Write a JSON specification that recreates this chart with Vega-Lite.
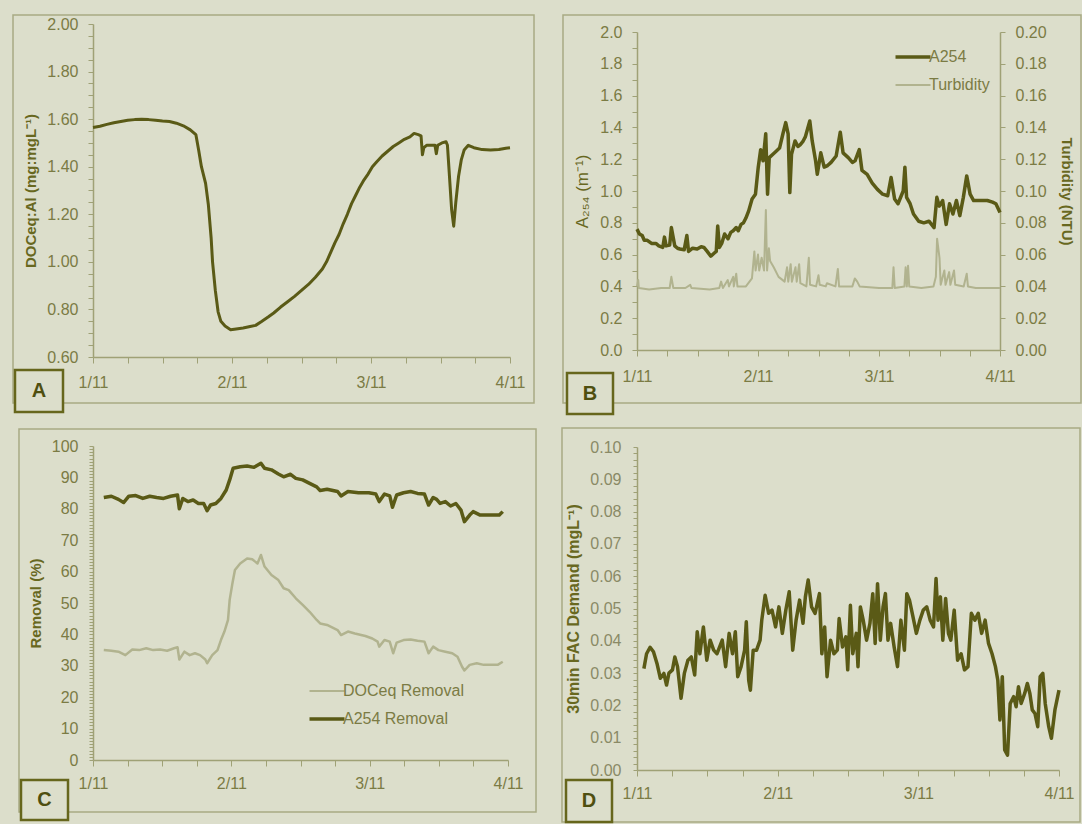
{
 "$schema": "https://vega.github.io/schema/vega-lite/v6.json",
 "background": "#dcdecb",
 "padding": {"left": 12, "top": 13, "right": 0, "bottom": 0},
 "spacing": 24,
 "resolve": {"scale": {"color": "independent"}, "legend": {"color": "independent"}},
 "config": {
  "view": {"stroke": null},
  "font": "Liberation Sans",
  "axis": {"labelFont": "Liberation Sans", "labelFontSize": 16, "labelColor": "#7b7b44", "titleFont": "Liberation Sans", "titleFontSize": 15, "titleColor": "#68681f", "titleFontWeight": "bold", "domainColor": "#9fa176", "domainWidth": 1.5, "tickColor": "#9fa176", "gridColor": "#a5a77d", "gridWidth": 1, "labelOverlap": false, "labelFlush": false, "labelAngle": 0, "titlePadding": 8, "tickCount": 500},
  "legend": {"symbolType": "M-1.75,0H1.75", "symbolSize": 400, "labelFont": "Liberation Sans", "labelFontSize": 16, "labelColor": "#7b7b44", "labelOffset": 8, "rowPadding": 12, "padding": 0, "title": null}
 },
 "hconcat": [
  {"vconcat": [
   {"width": 1, "height": 1, "data": {"values": [{}]}, "mark": {"type": "point", "opacity": 0, "size": 1}, "encoding": {}},
   {"vconcat": [
   {"width": 417, "height": 333,
    "layer": [
     {"data": {"values": [{}]}, "mark": {"type": "rect", "filled": false, "stroke": "#a8aa84", "strokeWidth": 1.5},
      "encoding": {"x": {"datum": 0.4245, "type": "quantitative"}, "x2": {"datum": 4.1727}, "y": {"datum": 2.0379, "type": "quantitative"}, "y2": {"datum": 0.4066}}},
     {"data": {"values": [
      {"d":1.00,"v":1.565},{"d":1.05,"v":1.570},{"d":1.10,"v":1.578},{"d":1.15,"v":1.585},{"d":1.20,"v":1.590},{"d":1.25,"v":1.595},{"d":1.30,"v":1.598},{"d":1.35,"v":1.600},{"d":1.40,"v":1.598},{"d":1.45,"v":1.595},{"d":1.50,"v":1.592},{"d":1.55,"v":1.590},{"d":1.60,"v":1.583},{"d":1.65,"v":1.572},{"d":1.70,"v":1.555},{"d":1.74,"v":1.535},{"d":1.76,"v":1.47},{"d":1.78,"v":1.40},{"d":1.81,"v":1.33},{"d":1.83,"v":1.24},{"d":1.85,"v":1.10},{"d":1.86,"v":1.00},{"d":1.88,"v":0.88},{"d":1.90,"v":0.79},{"d":1.92,"v":0.75},{"d":1.95,"v":0.73},{"d":1.99,"v":0.715},{"d":2.03,"v":0.718},{"d":2.08,"v":0.722},{"d":2.13,"v":0.728},{"d":2.17,"v":0.733},{"d":2.21,"v":0.748},{"d":2.26,"v":0.768},{"d":2.30,"v":0.785},{"d":2.35,"v":0.81},{"d":2.40,"v":0.832},{"d":2.45,"v":0.855},{"d":2.50,"v":0.88},{"d":2.55,"v":0.905},{"d":2.60,"v":0.935},{"d":2.65,"v":0.97},{"d":2.68,"v":1.00},{"d":2.71,"v":1.04},{"d":2.74,"v":1.08},{"d":2.77,"v":1.115},{"d":2.80,"v":1.16},{"d":2.83,"v":1.20},{"d":2.86,"v":1.245},{"d":2.89,"v":1.28},{"d":2.92,"v":1.315},{"d":2.95,"v":1.345},{"d":2.98,"v":1.37},{"d":3.01,"v":1.40},{"d":3.04,"v":1.42},{"d":3.08,"v":1.445},{"d":3.12,"v":1.465},{"d":3.16,"v":1.485},{"d":3.20,"v":1.50},{"d":3.24,"v":1.515},{"d":3.28,"v":1.525},{"d":3.31,"v":1.54},{"d":3.34,"v":1.535},{"d":3.36,"v":1.53},{"d":3.37,"v":1.45},{"d":3.38,"v":1.48},{"d":3.40,"v":1.49},{"d":3.44,"v":1.49},{"d":3.46,"v":1.49},{"d":3.47,"v":1.455},{"d":3.48,"v":1.49},{"d":3.51,"v":1.50},{"d":3.54,"v":1.505},{"d":3.55,"v":1.49},{"d":3.56,"v":1.40},{"d":3.58,"v":1.22},{"d":3.595,"v":1.15},{"d":3.61,"v":1.25},{"d":3.63,"v":1.36},{"d":3.65,"v":1.43},{"d":3.67,"v":1.47},{"d":3.70,"v":1.49},{"d":3.74,"v":1.48},{"d":3.80,"v":1.472},{"d":3.86,"v":1.47},{"d":3.92,"v":1.472},{"d":3.97,"v":1.478},{"d":4.00,"v":1.48}
     ]},
      "mark": {"type": "line", "color": "#5a5a16", "strokeWidth": 3, "strokeJoin": "round"},
      "encoding": {
       "x": {"field": "d", "type": "quantitative", "scale": {"domain": [1, 4], "nice": false, "zero": false},
        "axis": {"title": null, "labelOverlap": false, "tickCount": 500, "values": [1,1.25,1.5,1.75,2,2.25,2.5,2.75,3,3.25,3.5,3.75,4], "labelExpr": "datum.value % 1 === 0 ? datum.value + '/11' : ''", "gridOpacity": {"condition": {"test": "datum.value % 1 !== 0", "value": 0}, "value": 1}, "tickSize": 6, "labelPadding": 11}},
       "y": {"field": "v", "type": "quantitative", "scale": {"domain": [0.6, 2.0], "nice": false, "zero": false},
        "axis": {"title": "DOCeq:Al  (mg:mgL⁻¹)", "labelOverlap": false, "tickCount": 500, "values": [0.6,0.65,0.7,0.75,0.8,0.85,0.9,0.95,1,1.05,1.1,1.15,1.2,1.25,1.3,1.35,1.4,1.45,1.5,1.55,1.6,1.65,1.7,1.75,1.8,1.85,1.9,1.95,2], "labelExpr": "abs(datum.value*5 - round(datum.value*5)) < 0.001 ? format(datum.value, '.2f') : ''", "gridOpacity": {"condition": {"test": "abs(datum.value*5 - round(datum.value*5)) >= 0.001", "value": 0}, "value": 1}, "tickSize": 5, "labelPadding": 10}}
      }},
     {"data": {"values": [{}]}, "mark": {"type": "rect", "fill": "#dcdecb", "stroke": "#66661c", "strokeWidth": 2.5},
      "encoding": {"x": {"datum": 0.4388, "type": "quantitative"}, "x2": {"datum": 0.7842}, "y": {"datum": 0.5453, "type": "quantitative"}, "y2": {"datum": 0.3688}}},
     {"data": {"values": [{}]}, "mark": {"type": "text", "text": "A", "fontSize": 20, "fontWeight": "bold", "color": "#4f4f10", "align": "center", "baseline": "middle"},
      "encoding": {"x": {"datum": 0.6115, "type": "quantitative"}, "y": {"datum": 0.457, "type": "quantitative"}}}
    ]
   },
   {"width": 415, "height": 314,
    "layer": [
     {"data": {"values": [{}]}, "mark": {"type": "rect", "filled": false, "stroke": "#a8aa84", "strokeWidth": 1.5},
      "encoding": {"x": {"datum": 0.465, "type": "quantitative"}, "x2": {"datum": 4.2025}, "y": {"datum": 105.41, "type": "quantitative"}, "y2": {"datum": -16.56}}},
     {"data": {"values": [
      {"d":1.078,"r":35},{"d":1.133,"r":34.8},{"d":1.184,"r":34.5},{"d":1.234,"r":33.4},{"d":1.284,"r":35.2},{"d":1.334,"r":35},{"d":1.385,"r":35.6},{"d":1.435,"r":35},{"d":1.485,"r":35.2},{"d":1.536,"r":34.8},{"d":1.586,"r":35.6},{"d":1.611,"r":35.9},{"d":1.624,"r":32},{"d":1.661,"r":34.5},{"d":1.699,"r":33.4},{"d":1.737,"r":34},{"d":1.774,"r":33.4},{"d":1.812,"r":32},{"d":1.825,"r":30.8},{"d":1.862,"r":33.4},{"d":1.900,"r":35},{"d":1.925,"r":38.2},{"d":1.950,"r":40.9},{"d":1.976,"r":44.6},{"d":1.988,"r":51},{"d":2.008,"r":56.3},{"d":2.026,"r":60.5},{"d":2.064,"r":62.6},{"d":2.114,"r":64.2},{"d":2.151,"r":63.9},{"d":2.189,"r":62.6},{"d":2.214,"r":65.3},{"d":2.240,"r":61.6},{"d":2.290,"r":58.9},{"d":2.340,"r":57.3},{"d":2.378,"r":54.7},{"d":2.415,"r":54.1},{"d":2.466,"r":51.5},{"d":2.516,"r":49.4},{"d":2.566,"r":47.2},{"d":2.617,"r":44.6},{"d":2.642,"r":43.5},{"d":2.692,"r":43},{"d":2.768,"r":41.4},{"d":2.793,"r":39.8},{"d":2.843,"r":40.9},{"d":2.893,"r":40.3},{"d":2.969,"r":39.5},{"d":3.019,"r":38.7},{"d":3.057,"r":37.7},{"d":3.069,"r":36.1},{"d":3.107,"r":38.2},{"d":3.145,"r":37.7},{"d":3.170,"r":34},{"d":3.195,"r":37.4},{"d":3.245,"r":38.2},{"d":3.296,"r":38.4},{"d":3.346,"r":38},{"d":3.396,"r":37.7},{"d":3.426,"r":34},{"d":3.459,"r":36.1},{"d":3.497,"r":35},{"d":3.547,"r":34.5},{"d":3.597,"r":34},{"d":3.635,"r":32.9},{"d":3.668,"r":29.7},{"d":3.685,"r":28.5},{"d":3.723,"r":30.3},{"d":3.774,"r":30.8},{"d":3.824,"r":30.3},{"d":3.874,"r":30.3},{"d":3.925,"r":30.3},{"d":3.962,"r":31.3}
     ]},
      "mark": {"type": "line", "strokeWidth": 2.5, "strokeJoin": "round"},
      "encoding": {
       "x": {"field": "d", "type": "quantitative", "scale": {"domain": [1, 4], "nice": false, "zero": false},
        "axis": {"title": null, "labelOverlap": false, "tickCount": 500, "values": [1,1.25,1.5,1.75,2,2.25,2.5,2.75,3,3.25,3.5,3.75,4], "labelExpr": "datum.value % 1 === 0 ? datum.value + '/11' : ''", "gridOpacity": {"condition": {"test": "datum.value % 1 !== 0", "value": 0}, "value": 1}, "tickSize": 6, "labelPadding": 9}},
       "y": {"field": "r", "type": "quantitative", "scale": {"domain": [0, 100], "nice": false, "zero": false},
        "axis": {"title": "Removal (%)", "labelOverlap": false, "tickCount": 500, "values": [0,1,2,3,4,5,6,7,8,9,10,11,12,13,14,15,16,17,18,19,20,21,22,23,24,25,26,27,28,29,30,31,32,33,34,35,36,37,38,39,40,41,42,43,44,45,46,47,48,49,50,51,52,53,54,55,56,57,58,59,60,61,62,63,64,65,66,67,68,69,70,71,72,73,74,75,76,77,78,79,80,81,82,83,84,85,86,87,88,89,90,91,92,93,94,95,96,97,98,99,100], "labelExpr": "datum.value % 10 === 0 ? datum.value + '' : ''", "gridOpacity": {"condition": {"test": "datum.value % 10 !== 0", "value": 0}, "value": 1}, "tickSize": 4, "labelPadding": 11}},
       "color": {"datum": "DOCeq Removal", "type": "nominal", "scale": {"domain": ["DOCeq Removal", "A254 Removal"], "range": ["#b1b38f", "#5a5a16"]},
        "legend": {"orient": "none", "legendX": 226, "legendY": 237, "encode": {"symbols": {"update": {"strokeWidth": {"signal": "datum.value === 'A254 Removal' ? 3.5 : 2"}}}}}}
      }},
     {"data": {"values": [
      {"d":1.078,"r":83.6},{"d":1.133,"r":84},{"d":1.184,"r":83},{"d":1.221,"r":82},{"d":1.259,"r":84},{"d":1.309,"r":84.2},{"d":1.360,"r":83.3},{"d":1.410,"r":84},{"d":1.460,"r":83.6},{"d":1.510,"r":83.3},{"d":1.561,"r":84},{"d":1.611,"r":84.4},{"d":1.624,"r":80},{"d":1.649,"r":83.3},{"d":1.686,"r":82.3},{"d":1.724,"r":82.8},{"d":1.762,"r":81.7},{"d":1.800,"r":81.7},{"d":1.825,"r":79.4},{"d":1.850,"r":81.2},{"d":1.888,"r":81.7},{"d":1.925,"r":83.3},{"d":1.963,"r":86},{"d":1.988,"r":89.2},{"d":2.013,"r":92.9},{"d":2.064,"r":93.4},{"d":2.114,"r":93.6},{"d":2.164,"r":93.2},{"d":2.214,"r":94.5},{"d":2.240,"r":92.9},{"d":2.290,"r":92.4},{"d":2.340,"r":91.1},{"d":2.378,"r":90.2},{"d":2.428,"r":91.0},{"d":2.466,"r":89.7},{"d":2.516,"r":89.2},{"d":2.566,"r":88.1},{"d":2.617,"r":87.0},{"d":2.642,"r":85.8},{"d":2.692,"r":86.2},{"d":2.768,"r":85.5},{"d":2.793,"r":84.1},{"d":2.843,"r":85.5},{"d":2.919,"r":85.1},{"d":2.994,"r":85.1},{"d":3.044,"r":84.7},{"d":3.069,"r":82.3},{"d":3.107,"r":84.7},{"d":3.145,"r":84.1},{"d":3.165,"r":80.5},{"d":3.195,"r":84.4},{"d":3.245,"r":85.1},{"d":3.296,"r":85.5},{"d":3.346,"r":84.9},{"d":3.396,"r":84.7},{"d":3.426,"r":81.2},{"d":3.459,"r":83.6},{"d":3.484,"r":83},{"d":3.509,"r":81.7},{"d":3.547,"r":82.3},{"d":3.585,"r":80.9},{"d":3.623,"r":81.7},{"d":3.660,"r":79.6},{"d":3.685,"r":75.9},{"d":3.723,"r":78},{"d":3.748,"r":79.1},{"d":3.799,"r":78},{"d":3.849,"r":78},{"d":3.899,"r":78},{"d":3.937,"r":78},{"d":3.962,"r":79.1}
     ]},
      "mark": {"type": "line", "strokeWidth": 3.5, "strokeJoin": "round"},
      "encoding": {
       "x": {"field": "d", "type": "quantitative"},
       "y": {"field": "r", "type": "quantitative"},
       "color": {"datum": "A254 Removal", "type": "nominal"}
      }},
     {"data": {"values": [{}]}, "mark": {"type": "rect", "fill": "#dcdecb", "stroke": "#66661c", "strokeWidth": 2.5},
      "encoding": {"x": {"datum": 0.4795, "type": "quantitative"}, "x2": {"datum": 0.8193}, "y": {"datum": -6.37, "type": "quantitative"}, "y2": {"datum": -19.11}}},
     {"data": {"values": [{}]}, "mark": {"type": "text", "text": "C", "fontSize": 20, "fontWeight": "bold", "color": "#4f4f10", "align": "center", "baseline": "middle"},
      "encoding": {"x": {"datum": 0.6494, "type": "quantitative"}, "y": {"datum": -12.74, "type": "quantitative"}}}
    ]
   }
   ], "spacing": 14, "resolve": {"scale": {"color": "independent"}, "legend": {"color": "independent"}}}
  ], "spacing": 0, "resolve": {"scale": {"color": "independent"}, "legend": {"color": "independent"}}},
  {"vconcat": [
   {"width": 1, "height": 1, "data": {"values": [{}]}, "mark": {"type": "point", "opacity": 0, "size": 1}, "encoding": {}},
   {"vconcat": [
   {"width": 363, "height": 318,
    "layer": [
     {"layer": [
      {"data": {"values": [{}]}, "mark": {"type": "rect", "filled": false, "stroke": "#a8aa84", "strokeWidth": 1.5},
       "encoding": {"x": {"datum": 0.3884, "type": "quantitative"}, "x2": {"datum": 4.6694}, "y": {"datum": 2.1069, "type": "quantitative"}, "y2": {"datum": -0.3333}}},
      {"data": {"values": [
       {"d":1.000,"a":0.76},{"d":1.02,"a":0.73},{"d":1.043,"a":0.72},{"d":1.06,"a":0.69},{"d":1.085,"a":0.69},{"d":1.12,"a":0.67},{"d":1.156,"a":0.67},{"d":1.18,"a":0.655},{"d":1.213,"a":0.645},{"d":1.227,"a":0.71},{"d":1.241,"a":0.655},{"d":1.27,"a":0.66},{"d":1.284,"a":0.77},{"d":1.312,"a":0.655},{"d":1.335,"a":0.64},{"d":1.355,"a":0.635},{"d":1.39,"a":0.63},{"d":1.412,"a":0.72},{"d":1.426,"a":0.62},{"d":1.46,"a":0.64},{"d":1.497,"a":0.635},{"d":1.53,"a":0.65},{"d":1.553,"a":0.645},{"d":1.58,"a":0.62},{"d":1.610,"a":0.59},{"d":1.639,"a":0.61},{"d":1.655,"a":0.62},{"d":1.667,"a":0.78},{"d":1.681,"a":0.645},{"d":1.70,"a":0.67},{"d":1.724,"a":0.73},{"d":1.752,"a":0.70},{"d":1.775,"a":0.74},{"d":1.795,"a":0.75},{"d":1.82,"a":0.77},{"d":1.837,"a":0.75},{"d":1.86,"a":0.79},{"d":1.880,"a":0.80},{"d":1.90,"a":0.83},{"d":1.923,"a":0.875},{"d":1.951,"a":0.95},{"d":1.979,"a":0.98},{"d":2.002,"a":1.15},{"d":2.022,"a":1.26},{"d":2.042,"a":1.19},{"d":2.064,"a":1.36},{"d":2.079,"a":0.98},{"d":2.093,"a":1.21},{"d":2.121,"a":1.23},{"d":2.15,"a":1.25},{"d":2.178,"a":1.27},{"d":2.206,"a":1.36},{"d":2.229,"a":1.43},{"d":2.249,"a":1.36},{"d":2.263,"a":0.99},{"d":2.277,"a":1.23},{"d":2.306,"a":1.315},{"d":2.33,"a":1.28},{"d":2.348,"a":1.29},{"d":2.37,"a":1.31},{"d":2.391,"a":1.34},{"d":2.428,"a":1.44},{"d":2.448,"a":1.315},{"d":2.476,"a":1.19},{"d":2.490,"a":1.105},{"d":2.519,"a":1.24},{"d":2.547,"a":1.15},{"d":2.575,"a":1.16},{"d":2.604,"a":1.18},{"d":2.646,"a":1.22},{"d":2.680,"a":1.37},{"d":2.703,"a":1.24},{"d":2.746,"a":1.21},{"d":2.78,"a":1.18},{"d":2.802,"a":1.19},{"d":2.837,"a":1.26},{"d":2.859,"a":1.13},{"d":2.902,"a":1.105},{"d":2.944,"a":1.05},{"d":2.987,"a":1.01},{"d":3.030,"a":0.98},{"d":3.072,"a":0.97},{"d":3.100,"a":1.085},{"d":3.129,"a":0.95},{"d":3.157,"a":0.92},{"d":3.200,"a":1.00},{"d":3.214,"a":1.15},{"d":3.228,"a":0.96},{"d":3.257,"a":0.92},{"d":3.285,"a":0.855},{"d":3.328,"a":0.81},{"d":3.370,"a":0.80},{"d":3.413,"a":0.81},{"d":3.455,"a":0.77},{"d":3.478,"a":0.96},{"d":3.498,"a":0.905},{"d":3.526,"a":0.94},{"d":3.555,"a":0.79},{"d":3.583,"a":0.92},{"d":3.611,"a":0.855},{"d":3.640,"a":0.94},{"d":3.668,"a":0.845},{"d":3.697,"a":0.96},{"d":3.725,"a":1.095},{"d":3.753,"a":0.98},{"d":3.782,"a":0.94},{"d":3.838,"a":0.94},{"d":3.895,"a":0.94},{"d":3.938,"a":0.93},{"d":3.966,"a":0.92},{"d":4.000,"a":0.865}
      ]},
       "mark": {"type": "line", "strokeWidth": 3.5, "strokeJoin": "round"},
       "encoding": {
        "x": {"field": "d", "type": "quantitative", "scale": {"domain": [1, 4], "nice": false, "zero": false},
         "axis": {"title": null, "labelOverlap": false, "tickCount": 500, "values": [1,1.25,1.5,1.75,2,2.25,2.5,2.75,3,3.25,3.5,3.75,4], "labelExpr": "datum.value % 1 === 0 ? datum.value + '/11' : ''", "gridOpacity": {"condition": {"test": "datum.value % 1 !== 0", "value": 0}, "value": 1}, "tickSize": 6, "labelPadding": 12}},
        "y": {"field": "a", "type": "quantitative", "scale": {"domain": [0, 2], "nice": false, "zero": false},
         "axis": {"title": "A₂₅₄ (m⁻¹)", "labelOverlap": false, "tickCount": 500, "titleFontWeight": "normal", "titleFontSize": 17, "values": [0,0.1,0.2,0.3,0.4,0.5,0.6,0.7,0.8,0.9,1,1.1,1.2,1.3,1.4,1.5,1.6,1.7,1.8,1.9,2], "labelExpr": "abs(datum.value*5 - round(datum.value*5)) < 0.001 ? format(datum.value, '.1f') : ''", "gridOpacity": {"condition": {"test": "abs(datum.value*5 - round(datum.value*5)) >= 0.001", "value": 0}, "value": 1}, "tickSize": 5, "labelPadding": 10}},
        "color": {"datum": "A254", "type": "nominal", "scale": {"domain": ["A254", "Turbidity"], "range": ["#5a5a16", "#b1b38f"]},
         "legend": {"orient": "none", "legendX": 268, "legendY": 17, "encode": {"symbols": {"update": {"strokeWidth": {"signal": "datum.value === 'A254' ? 3.5 : 2"}}}}}}
       }},
      {"data": {"values": [{}]}, "mark": {"type": "rect", "fill": "#dcdecb", "stroke": "#66661c", "strokeWidth": 2.5},
       "encoding": {"x": {"datum": 0.4215, "type": "quantitative"}, "x2": {"datum": 0.8017}, "y": {"datum": -0.1447, "type": "quantitative"}, "y2": {"datum": -0.4025}}},
      {"data": {"values": [{}]}, "mark": {"type": "text", "text": "B", "fontSize": 20, "fontWeight": "bold", "color": "#4f4f10", "align": "center", "baseline": "middle"},
       "encoding": {"x": {"datum": 0.6116, "type": "quantitative"}, "y": {"datum": -0.2736, "type": "quantitative"}}}
     ]},
     {"data": {"values": [
      {"d":1.000,"t":0.040},{"d":1.010,"t":0.044},{"d":1.015,"t":0.039},{"d":1.10,"t":0.038},{"d":1.20,"t":0.039},{"d":1.27,"t":0.039},{"d":1.284,"t":0.046},{"d":1.30,"t":0.039},{"d":1.40,"t":0.039},{"d":1.44,"t":0.041},{"d":1.45,"t":0.039},{"d":1.60,"t":0.038},{"d":1.68,"t":0.039},{"d":1.695,"t":0.043},{"d":1.71,"t":0.039},{"d":1.75,"t":0.044},{"d":1.76,"t":0.040},{"d":1.795,"t":0.046},{"d":1.80,"t":0.040},{"d":1.82,"t":0.048},{"d":1.83,"t":0.040},{"d":1.90,"t":0.040},{"d":1.95,"t":0.045},{"d":1.97,"t":0.062},{"d":1.98,"t":0.050},{"d":2.00,"t":0.060},{"d":2.01,"t":0.050},{"d":2.03,"t":0.058},{"d":2.05,"t":0.050},{"d":2.065,"t":0.088},{"d":2.075,"t":0.050},{"d":2.09,"t":0.064},{"d":2.10,"t":0.056},{"d":2.13,"t":0.052},{"d":2.17,"t":0.046},{"d":2.22,"t":0.043},{"d":2.24,"t":0.052},{"d":2.25,"t":0.043},{"d":2.27,"t":0.054},{"d":2.28,"t":0.043},{"d":2.31,"t":0.052},{"d":2.32,"t":0.043},{"d":2.34,"t":0.054},{"d":2.35,"t":0.042},{"d":2.40,"t":0.040},{"d":2.42,"t":0.058},{"d":2.43,"t":0.041},{"d":2.48,"t":0.040},{"d":2.50,"t":0.047},{"d":2.51,"t":0.041},{"d":2.56,"t":0.040},{"d":2.57,"t":0.042},{"d":2.64,"t":0.040},{"d":2.66,"t":0.051},{"d":2.67,"t":0.040},{"d":2.78,"t":0.040},{"d":2.80,"t":0.045},{"d":2.82,"t":0.043},{"d":2.84,"t":0.040},{"d":3.00,"t":0.039},{"d":3.11,"t":0.039},{"d":3.12,"t":0.052},{"d":3.13,"t":0.039},{"d":3.21,"t":0.040},{"d":3.22,"t":0.052},{"d":3.23,"t":0.040},{"d":3.24,"t":0.053},{"d":3.25,"t":0.040},{"d":3.35,"t":0.039},{"d":3.45,"t":0.040},{"d":3.47,"t":0.046},{"d":3.48,"t":0.070},{"d":3.50,"t":0.058},{"d":3.51,"t":0.041},{"d":3.54,"t":0.050},{"d":3.55,"t":0.041},{"d":3.58,"t":0.049},{"d":3.59,"t":0.041},{"d":3.62,"t":0.050},{"d":3.63,"t":0.041},{"d":3.70,"t":0.040},{"d":3.725,"t":0.048},{"d":3.735,"t":0.040},{"d":3.80,"t":0.039},{"d":3.90,"t":0.039},{"d":4.00,"t":0.039}
     ]},
      "mark": {"type": "line", "strokeWidth": 2, "strokeJoin": "round"},
      "encoding": {
       "x": {"field": "d", "type": "quantitative"},
       "y": {"field": "t", "type": "quantitative", "scale": {"domain": [0, 0.2], "nice": false, "zero": false},
        "axis": {"orient": "right", "title": "Turbidity (NTU)", "labelOverlap": false, "tickCount": 500, "values": [0,0.02,0.04,0.06,0.08,0.1,0.12,0.14,0.16,0.18,0.2], "format": ".2f", "grid": false, "tickSize": 5, "labelPadding": 10, "titlePadding": 12}},
       "color": {"datum": "Turbidity", "type": "nominal"}
      }}
    ],
    "resolve": {"scale": {"y": "independent"}}
   },
   {"width": 422, "height": 323,
    "layer": [
     {"data": {"values": [{}]}, "mark": {"type": "rect", "filled": false, "stroke": "#a8aa84", "strokeWidth": 1.5},
      "encoding": {"x": {"datum": 0.4668, "type": "quantitative"}, "x2": {"datum": 4.1493}, "y": {"datum": 0.10588, "type": "quantitative"}, "y2": {"datum": -0.0161}}},
     {"data": {"values": [
      {"d":1.049,"f":0.0314},{"d":1.068,"f":0.036},{"d":1.093,"f":0.038},{"d":1.117,"f":0.0366},{"d":1.142,"f":0.033},{"d":1.166,"f":0.0284},{"d":1.191,"f":0.0299},{"d":1.210,"f":0.0263},{"d":1.227,"f":0.030},{"d":1.252,"f":0.031},{"d":1.269,"f":0.035},{"d":1.288,"f":0.032},{"d":1.313,"f":0.0222},{"d":1.337,"f":0.030},{"d":1.362,"f":0.034},{"d":1.386,"f":0.035},{"d":1.410,"f":0.0294},{"d":1.428,"f":0.0428},{"d":1.447,"f":0.036},{"d":1.472,"f":0.0443},{"d":1.496,"f":0.034},{"d":1.520,"f":0.0402},{"d":1.545,"f":0.0371},{"d":1.569,"f":0.036},{"d":1.606,"f":0.0402},{"d":1.630,"f":0.032},{"d":1.655,"f":0.0423},{"d":1.679,"f":0.036},{"d":1.699,"f":0.0428},{"d":1.716,"f":0.0289},{"d":1.740,"f":0.032},{"d":1.765,"f":0.0371},{"d":1.777,"f":0.0459},{"d":1.794,"f":0.0278},{"d":1.806,"f":0.0247},{"d":1.826,"f":0.0371},{"d":1.850,"f":0.0371},{"d":1.875,"f":0.0402},{"d":1.887,"f":0.0464},{"d":1.911,"f":0.0541},{"d":1.936,"f":0.0485},{"d":1.960,"f":0.0495},{"d":1.985,"f":0.0443},{"d":2.009,"f":0.0505},{"d":2.033,"f":0.0423},{"d":2.058,"f":0.0495},{"d":2.082,"f":0.0552},{"d":2.107,"f":0.0371},{"d":2.131,"f":0.0464},{"d":2.156,"f":0.0526},{"d":2.180,"f":0.0454},{"d":2.197,"f":0.0536},{"d":2.217,"f":0.0588},{"d":2.241,"f":0.0505},{"d":2.266,"f":0.0485},{"d":2.297,"f":0.0546},{"d":2.314,"f":0.036},{"d":2.334,"f":0.0443},{"d":2.351,"f":0.0289},{"d":2.376,"f":0.0402},{"d":2.400,"f":0.036},{"d":2.424,"f":0.0371},{"d":2.437,"f":0.0469},{"d":2.461,"f":0.0381},{"d":2.485,"f":0.0412},{"d":2.498,"f":0.031},{"d":2.517,"f":0.051},{"d":2.534,"f":0.036},{"d":2.559,"f":0.0423},{"d":2.571,"f":0.032},{"d":2.588,"f":0.0505},{"d":2.608,"f":0.0464},{"d":2.632,"f":0.0402},{"d":2.656,"f":0.0454},{"d":2.676,"f":0.0546},{"d":2.693,"f":0.0392},{"d":2.710,"f":0.0577},{"d":2.730,"f":0.0402},{"d":2.749,"f":0.0505},{"d":2.766,"f":0.0546},{"d":2.784,"f":0.0402},{"d":2.803,"f":0.0454},{"d":2.828,"f":0.0381},{"d":2.852,"f":0.032},{"d":2.876,"f":0.0464},{"d":2.901,"f":0.0371},{"d":2.918,"f":0.0546},{"d":2.937,"f":0.0526},{"d":2.962,"f":0.0474},{"d":2.986,"f":0.0423},{"d":3.011,"f":0.0464},{"d":3.035,"f":0.0495},{"d":3.060,"f":0.0505},{"d":3.084,"f":0.0464},{"d":3.108,"f":0.0443},{"d":3.126,"f":0.0593},{"d":3.140,"f":0.0464},{"d":3.157,"f":0.0536},{"d":3.174,"f":0.0402},{"d":3.194,"f":0.0531},{"d":3.214,"f":0.0423},{"d":3.231,"f":0.0402},{"d":3.255,"f":0.0495},{"d":3.279,"f":0.034},{"d":3.304,"f":0.036},{"d":3.328,"f":0.031},{"d":3.353,"f":0.032},{"d":3.377,"f":0.0485},{"d":3.402,"f":0.0464},{"d":3.426,"f":0.0485},{"d":3.450,"f":0.0423},{"d":3.475,"f":0.0464},{"d":3.499,"f":0.0392},{"d":3.524,"f":0.036},{"d":3.548,"f":0.032},{"d":3.565,"f":0.0278},{"d":3.580,"f":0.0155},{"d":3.597,"f":0.0289},{"d":3.614,"f":0.0062},{"d":3.634,"f":0.0046},{"d":3.653,"f":0.0206},{"d":3.678,"f":0.0227},{"d":3.695,"f":0.0196},{"d":3.712,"f":0.0258},{"d":3.731,"f":0.0206},{"d":3.756,"f":0.0237},{"d":3.775,"f":0.0268},{"d":3.793,"f":0.0237},{"d":3.810,"f":0.0186},{"d":3.829,"f":0.0175},{"d":3.849,"f":0.0134},{"d":3.866,"f":0.0289},{"d":3.885,"f":0.0299},{"d":3.902,"f":0.0206},{"d":3.927,"f":0.0134},{"d":3.946,"f":0.0098},{"d":3.971,"f":0.0186},{"d":4.000,"f":0.0247}
     ]},
      "mark": {"type": "line", "color": "#5a5a16", "strokeWidth": 3.5, "strokeJoin": "round"},
      "encoding": {
       "x": {"field": "d", "type": "quantitative", "scale": {"domain": [1, 4], "nice": false, "zero": false},
        "axis": {"title": null, "labelOverlap": false, "tickCount": 500, "values": [1,1.25,1.5,1.75,2,2.25,2.5,2.75,3,3.25,3.5,3.75,4], "labelExpr": "datum.value % 1 === 0 ? datum.value + '/11' : ''", "gridOpacity": {"condition": {"test": "datum.value % 1 !== 0", "value": 0}, "value": 1}, "tickSize": 6, "labelPadding": 9}},
       "y": {"field": "f", "type": "quantitative", "scale": {"domain": [0, 0.1], "nice": false, "zero": false},
        "axis": {"title": "30min FAC Demand (mgL⁻¹)", "labelOverlap": false, "tickCount": 500, "titleFontSize": 16, "labelColor": "#8a8a66", "values": [0,0.002,0.004,0.006,0.008,0.01,0.012,0.014,0.016,0.018,0.02,0.022,0.024,0.026,0.028,0.03,0.032,0.034,0.036,0.038,0.04,0.042,0.044,0.046,0.048,0.05,0.052,0.054,0.056,0.058,0.06,0.062,0.064,0.066,0.068,0.07,0.072,0.074,0.076,0.078,0.08,0.082,0.084,0.086,0.088,0.09,0.092,0.094,0.096,0.098,0.1], "labelExpr": "abs(datum.value*100 - round(datum.value*100)) < 0.001 ? format(datum.value, '.2f') : ''", "gridOpacity": {"condition": {"test": "abs(datum.value*100 - round(datum.value*100)) >= 0.001", "value": 0}, "value": 1}, "tickSize": 4, "labelPadding": 12}}
      }},
     {"data": {"values": [{}]}, "mark": {"type": "rect", "fill": "#dcdecb", "stroke": "#66661c", "strokeWidth": 2.5},
      "encoding": {"x": {"datum": 0.4953, "type": "quantitative"}, "x2": {"datum": 0.8223}, "y": {"datum": -0.0031, "type": "quantitative"}, "y2": {"datum": -0.0161}}},
     {"data": {"values": [{}]}, "mark": {"type": "text", "text": "D", "fontSize": 20, "fontWeight": "bold", "color": "#4f4f10", "align": "center", "baseline": "middle"},
      "encoding": {"x": {"datum": 0.6588, "type": "quantitative"}, "y": {"datum": -0.0096, "type": "quantitative"}}}
    ]
   }
   ], "spacing": 11, "resolve": {"scale": {"color": "independent"}, "legend": {"color": "independent"}}}
  ], "spacing": 0, "resolve": {"scale": {"color": "independent"}, "legend": {"color": "independent"}}}
 ]
}
